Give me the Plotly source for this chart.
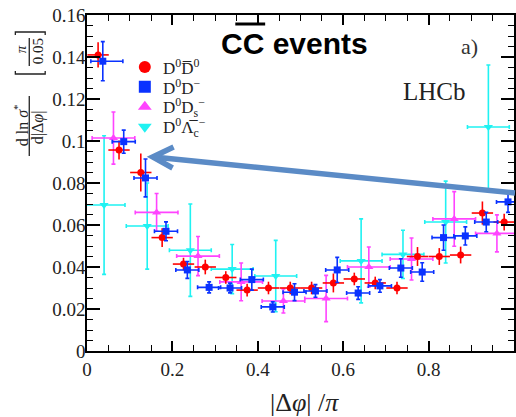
import plotly.graph_objects as go

# ---------------- data ----------------
red_x = [0.026, 0.075, 0.126, 0.176, 0.226, 0.277, 0.325, 0.375, 0.425, 0.476,
         0.526, 0.577, 0.626, 0.675, 0.726, 0.774, 0.825, 0.875, 0.926, 0.977]
red_y = [0.141, 0.0957, 0.085, 0.054, 0.0414, 0.040, 0.035, 0.029, 0.030, 0.030,
         0.030, 0.0324, 0.0343, 0.0324, 0.030, 0.045, 0.045, 0.0457, 0.0657, 0.0614]
red_ey = [0.006, 0.0045, 0.009, 0.0045, 0.003, 0.0035, 0.003, 0.003, 0.003, 0.003,
          0.003, 0.0045, 0.003, 0.003, 0.003, 0.0045, 0.004, 0.004, 0.0055, 0.004]
red_ex = [0.025] * 20

blue_x = [0.037, 0.086, 0.137, 0.185, 0.235, 0.286, 0.335, 0.386, 0.435, 0.486,
          0.535, 0.586, 0.635, 0.686, 0.735, 0.785, 0.835, 0.886, 0.935, 0.986]
blue_y = [0.138, 0.0997, 0.0824, 0.057, 0.0386, 0.0303, 0.030, 0.034, 0.021, 0.028,
          0.0286, 0.0386, 0.0276, 0.031, 0.0395, 0.0376, 0.054, 0.0548, 0.0614, 0.071]
blue_ey = [0.0093, 0.0055, 0.009, 0.0045, 0.004, 0.0026, 0.0023, 0.005, 0.0024, 0.004,
           0.003, 0.006, 0.003, 0.003, 0.0044, 0.0044, 0.006, 0.0043, 0.0046, 0.005]
blue_ex_plus = [0.047] + [0.027] * 19
blue_ex_minus = [0.028] + [0.027] * 19

mag_x = [0.062, 0.163, 0.260, 0.361, 0.460, 0.560, 0.660, 0.760, 0.860, 0.960]
mag_y = [0.1014, 0.066, 0.0452, 0.0329, 0.0238, 0.025, 0.040, 0.0438, 0.0629, 0.056]
mag_ey = [0.0124, 0.009, 0.0093, 0.009, 0.0057, 0.011, 0.0095, 0.010, 0.013, 0.0088]
mag_ex = [0.05] * 10

cyan_x = [0.040, 0.141, 0.242, 0.340, 0.442, 0.642, 0.740, 0.840, 0.940]
cyan_y = [0.0695, 0.0595, 0.048, 0.039, 0.0357, 0.0429, 0.046, 0.0614, 0.1067]
cyan_ey = [0.033, 0.0205, 0.022, 0.0117, 0.017, 0.020, 0.0115, 0.0195, 0.0295]
cyan_ex = [0.049] * 9

series_names = ["D<sup>0</sup>D\u0305<sup>0</sup>",
                "D<sup>0</sup>D<sup>\u2212</sup>",
                "D<sup>0</sup>D<sub>s</sub><sup>\u2212</sup>",
                "D<sup>0</sup>\u039b\u0305<sub>c</sub><sup>\u2212</sup>"]

x_tickvals = [0, 0.2, 0.4, 0.6, 0.8]
x_ticktext = ["0", "0.2", "0.4", "0.6", "0.8"]
y_tickvals = [0, 0.02, 0.04, 0.06, 0.08, 0.1, 0.12, 0.14, 0.16]
y_ticktext = ["0", "0.02", "0.04", "0.06", "0.08", "0.1", "0.12", "0.14", "0.16"]

# ---------------- layout helpers ----------------
W, H = 516, 417
ML, MR, MT, MB = 87, 0, 15, 66
PW, PH = W - ML - MR, H - MT - MB


def px(xp):
    return (xp - ML) / PW


def py(yp):
    return (H - MB - yp) / PH


SERIF = "Liberation Serif"
SANS = "Liberation Sans"
RED, BLUE, MAG, CYAN = "#ff0000", "#0a32ff", "#ff44ff", "#1ff2f2"

fig = go.Figure()


def add(x, y, ey, exp, exm, color, symbol, size, cap, rank):
    # legend entry keeps only the symbol; its label is set as text beside it
    fig.add_trace(go.Scatter(
        x=x, y=y, mode="markers", name=" ", legendrank=rank,
        marker=dict(color=color, symbol=symbol, size=size, line=dict(width=0)),
        error_y=dict(type="data", array=ey, color=color, thickness=1.6, width=cap),
        error_x=dict(type="data", array=exp, arrayminus=exm, color=color,
                     thickness=1.6, width=cap),
    ))


add(cyan_x, cyan_y, cyan_ey, cyan_ex, cyan_ex, CYAN, "triangle-down", 8, 2, 4)
add(mag_x, mag_y, mag_ey, mag_ex, mag_ex, MAG, "triangle-up", 8, 2, 3)
add(red_x, red_y, red_ey, red_ex, red_ex, RED, "circle", 7, 0, 1)
add(blue_x, blue_y, blue_ey, blue_ex_plus, blue_ex_minus, BLUE, "square", 7, 2, 2)

axis_common = dict(showgrid=False, zeroline=False, showline=True, linecolor="black",
                   linewidth=1.5, mirror="ticks", ticks="inside", tickcolor="black",
                   tickwidth=1.5, tickfont=dict(family=SERIF, size=19, color="#222"))

fig.update_xaxes(range=[0, 1.0], tickvals=x_tickvals, ticktext=x_ticktext, ticklen=10,
                 minor=dict(dtick=0.05, tick0=0, ticklen=6, ticks="inside",
                            tickcolor="black", tickwidth=1.2),
                 **axis_common)
fig.update_yaxes(range=[0, 0.16], tickvals=y_tickvals, ticktext=y_ticktext, ticklen=13,
                 ticklabelstandoff=-4,
                 minor=dict(dtick=0.005, tick0=0, ticklen=6, ticks="inside",
                            tickcolor="black", tickwidth=1.2),
                 **axis_common)

ann = []
shapes = []


def text(xx, yy, txt, family, size, color, angle=0, xanchor="center"):
    ann.append(dict(xref="paper", yref="paper", x=px(xx), y=py(yy), text=txt,
                    showarrow=False, textangle=angle,
                    font=dict(family=family, size=size, color=color),
                    xanchor=xanchor, yanchor="middle"))


def pline(x0, y0, x1, y1, color, width):
    shapes.append(dict(type="line", xref="paper", yref="paper", x0=px(x0), x1=px(x1),
                       y0=py(y0), y1=py(y1), line=dict(color=color, width=width)))


# title
text(295, 43, "<b>CC events</b>", SANS, 30, "black")
pline(236, 24, 266, 24, "black", 3)
text(471, 46, "a)", SERIF, 22, "#333")
text(436, 92, "LHCb", SERIF, 25, "#222")
# legend labels
for i, nm in enumerate(series_names):
    text(161, 67 + 20 * i, nm, SERIF, 17, "#222", xanchor="left")
# x-axis title
text(306, 403, "|\u0394<i>\u03c6</i>| /<i>\u03c0</i>", SERIF, 26, "#222")
# y-axis title (stacked fractions, rotated)
text(21, 125, "d ln <i>\u03c3</i><sup>*</sup>", SERIF, 16, "#222", -90)
text(38, 127, "d|\u0394<i>\u03c6</i>|", SERIF, 16, "#222", -90)
text(21, 49, "<i>\u03c0</i>", SERIF, 15, "#222", -90)
text(38, 51, "0.05", SERIF, 15, "#222", -90)
pline(29, 96, 29, 156, "#222", 1.3)
pline(29, 38, 29, 66, "#222", 1.3)
# brackets
for yb, d in [(74, -3), (32, 3)]:
    shapes.append(dict(type="path", xref="paper", yref="paper",
                       path=f"M {px(15)},{py(yb + d)} L {px(15)},{py(yb)} L {px(45)},{py(yb)} L {px(45)},{py(yb + d)}",
                       line=dict(color="#222", width=1.3)))
# arrow
AC = "#5b8bc6"
pline(517, 193, 154, 157, AC, 5.5)
shapes.append(dict(type="path", xref="paper", yref="paper",
                   path=f"M {px(174)},{py(147)} L {px(153)},{py(157)} L {px(173)},{py(168)}",
                   line=dict(color=AC, width=5.5)))

fig.update_layout(
    width=W, height=H, margin=dict(l=ML, r=MR, t=MT, b=MB),
    paper_bgcolor="white", plot_bgcolor="white",
    annotations=ann, shapes=shapes,
    legend=dict(x=px(125), y=py(52), xanchor="left", yanchor="top",
                bgcolor="rgba(0,0,0,0)", borderwidth=0, traceorder="normal",
                font=dict(family=SERIF, size=13, color="#222"), tracegroupgap=0,
                itemwidth=30, itemsizing="constant"),
    showlegend=True,
)

fig.write_html("out.html")
